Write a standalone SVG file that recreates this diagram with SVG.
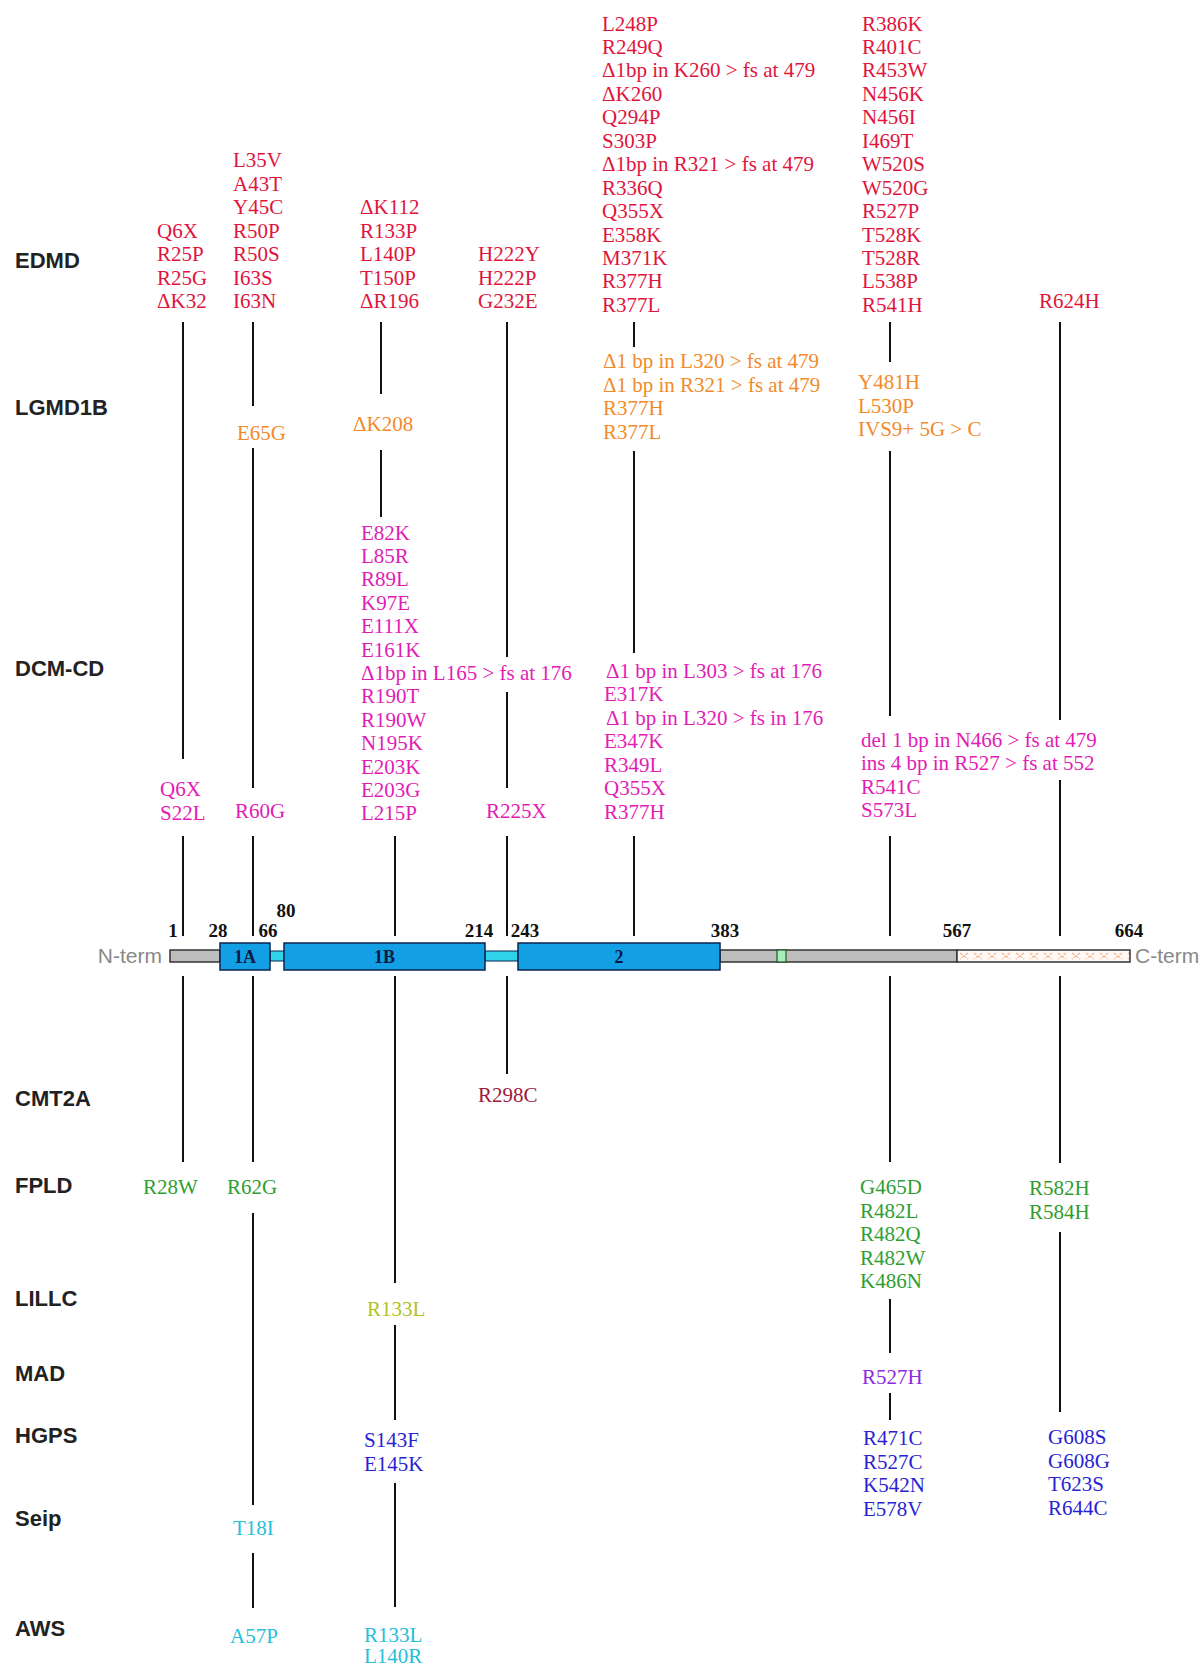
<svg xmlns="http://www.w3.org/2000/svg" width="1202" height="1667" viewBox="0 0 1202 1667">
<style>
.bg{fill:#ffffff}
.row{font-family:"Liberation Sans",Arial,sans-serif;font-weight:bold;font-size:22px;fill:#222222}
.m{font-family:"Liberation Serif","Times New Roman",serif;font-size:21px}
.edmd{fill:#e0143c}
.lgmd{fill:#f28a2a}
.dcm{fill:#e21cb4}
.cmt{fill:#9c1a3a}
.fpld{fill:#2f9e32}
.lillc{fill:#b2c224}
.mad{fill:#8a2be2}
.hgps{fill:#2a1fd4}
.seip{fill:#25c0d8}
.num{font-family:"Liberation Serif","Times New Roman",serif;font-weight:bold;font-size:19px;fill:#111111;text-anchor:middle}
.dom{font-family:"Liberation Serif","Times New Roman",serif;font-weight:bold;font-size:18px;fill:#0a1a40;text-anchor:middle}
.term{font-family:"Liberation Sans",Arial,sans-serif;font-size:21px;fill:#888888}
.box{fill:#139fe4;stroke:#0b2550;stroke-width:1.5}
.link{fill:#2fd3ea;stroke:#0b2550;stroke-width:1}
.tail{fill:#bdbdbd;stroke:#333333;stroke-width:1.5}
.conn line{stroke:#111111;stroke-width:2}
</style>
<defs>
<pattern id="hatch" x="957" y="950" width="14" height="12" patternUnits="userSpaceOnUse">
<rect width="14" height="12" fill="#fff8f4"/>
<path d="M3 3 L11 9 M11 3 L3 9" stroke="#f4b48a" stroke-width="1.1" stroke-dasharray="3 1.5"/>
</pattern>
</defs>
<rect class="bg" x="0" y="0" width="1202" height="1667"/>

<g id="row-labels">
<text class="row" x="15" y="268">EDMD</text>
<text class="row" x="15" y="415">LGMD1B</text>
<text class="row" x="15" y="676">DCM-CD</text>
<text class="row" x="15" y="1106">CMT2A</text>
<text class="row" x="15" y="1193">FPLD</text>
<text class="row" x="15" y="1306">LILLC</text>
<text class="row" x="15" y="1381">MAD</text>
<text class="row" x="15" y="1443">HGPS</text>
<text class="row" x="15" y="1526">Seip</text>
<text class="row" x="15" y="1636">AWS</text>
</g>

<g id="connectors" class="conn">
<line x1="183" y1="322" x2="183" y2="759"/>
<line x1="183" y1="836" x2="183" y2="936"/>
<line x1="183" y1="976" x2="183" y2="1162"/>
<line x1="253" y1="322" x2="253" y2="406"/>
<line x1="253" y1="448" x2="253" y2="788"/>
<line x1="253" y1="836" x2="253" y2="936"/>
<line x1="253" y1="976" x2="253" y2="1162"/>
<line x1="253" y1="1213" x2="253" y2="1505"/>
<line x1="253" y1="1553" x2="253" y2="1608"/>
<line x1="381" y1="322" x2="381" y2="394"/>
<line x1="381" y1="450" x2="381" y2="517"/>
<line x1="395" y1="836" x2="395" y2="936"/>
<line x1="395" y1="976" x2="395" y2="1283"/>
<line x1="395" y1="1325" x2="395" y2="1420"/>
<line x1="395" y1="1483" x2="395" y2="1607"/>
<line x1="507" y1="322" x2="507" y2="657"/>
<line x1="507" y1="692" x2="507" y2="788"/>
<line x1="507" y1="836" x2="507" y2="936"/>
<line x1="507" y1="976" x2="507" y2="1074"/>
<line x1="634" y1="322" x2="634" y2="347"/>
<line x1="634" y1="451" x2="634" y2="653"/>
<line x1="634" y1="836" x2="634" y2="936"/>
<line x1="890" y1="322" x2="890" y2="362"/>
<line x1="890" y1="451" x2="890" y2="716"/>
<line x1="890" y1="836" x2="890" y2="936"/>
<line x1="890" y1="976" x2="890" y2="1162"/>
<line x1="890" y1="1299" x2="890" y2="1353"/>
<line x1="890" y1="1393" x2="890" y2="1420"/>
<line x1="1060" y1="322" x2="1060" y2="720"/>
<line x1="1060" y1="780" x2="1060" y2="936"/>
<line x1="1060" y1="976" x2="1060" y2="1163"/>
<line x1="1060" y1="1232" x2="1060" y2="1412"/>
</g>

<g id="protein">
<rect class="tail" x="170" y="950" width="50" height="12"/>
<rect class="link" x="270" y="951" width="14" height="10"/>
<rect class="link" x="485" y="951" width="33" height="10"/>
<rect class="tail" x="720" y="950" width="237" height="12"/>
<rect x="777" y="950" width="9" height="12" fill="#a8eeb8" stroke="#1d5a2a" stroke-width="1.2"/>
<rect x="957" y="950" width="173" height="12" fill="url(#hatch)" stroke="#333333" stroke-width="1.5"/>
<text class="term" x="162" y="963" text-anchor="end">N-term</text>
<text class="term" x="1135" y="963">C-term</text>
</g>
<g id="domain-1A">
<rect class="box" x="220" y="943" width="50" height="27"/>
<text class="dom" x="245" y="963">1A</text>
</g>
<g id="domain-1B">
<rect class="box" x="284" y="943" width="201" height="27"/>
<text class="dom" x="384.5" y="963">1B</text>
</g>
<g id="domain-2">
<rect class="box" x="518" y="943" width="202" height="27"/>
<text class="dom" x="619" y="963">2</text>
</g>
<g id="positions">
<text class="num" x="173" y="937">1</text>
<text class="num" x="218" y="937">28</text>
<text class="num" x="268" y="937">66</text>
<text class="num" x="286" y="917">80</text>
<text class="num" x="479" y="937">214</text>
<text class="num" x="525" y="937">243</text>
<text class="num" x="725" y="937">383</text>
<text class="num" x="957" y="937">567</text>
<text class="num" x="1129" y="937">664</text>
</g>

<g id="edmd-1"><text class="m edmd" x="157" y="237.5"><tspan x="157">Q6X</tspan><tspan x="157" dy="23.5">R25P</tspan><tspan x="157" dy="23.5">R25G</tspan><tspan x="157" dy="23.5">ΔK32</tspan></text></g>
<g id="edmd-2"><text class="m edmd" x="233" y="167"><tspan x="233">L35V</tspan><tspan x="233" dy="23.5">A43T</tspan><tspan x="233" dy="23.5">Y45C</tspan><tspan x="233" dy="23.5">R50P</tspan><tspan x="233" dy="23.5">R50S</tspan><tspan x="233" dy="23.5">I63S</tspan><tspan x="233" dy="23.5">I63N</tspan></text></g>
<g id="edmd-3"><text class="m edmd" x="360" y="214"><tspan x="360">ΔK112</tspan><tspan x="360" dy="23.5">R133P</tspan><tspan x="360" dy="23.5">L140P</tspan><tspan x="360" dy="23.5">T150P</tspan><tspan x="360" dy="23.5">ΔR196</tspan></text></g>
<g id="edmd-4"><text class="m edmd" x="478" y="261"><tspan x="478">H222Y</tspan><tspan x="478" dy="23.5">H222P</tspan><tspan x="478" dy="23.5">G232E</tspan></text></g>
<g id="edmd-5"><text class="m edmd" x="602" y="30.5"><tspan x="602">L248P</tspan><tspan x="602" dy="23.45">R249Q</tspan><tspan x="602" dy="23.45">Δ1bp in K260 &gt; fs at 479</tspan><tspan x="602" dy="23.45">ΔK260</tspan><tspan x="602" dy="23.45">Q294P</tspan><tspan x="602" dy="23.45">S303P</tspan><tspan x="602" dy="23.45">Δ1bp in R321 &gt; fs at 479</tspan><tspan x="602" dy="23.45">R336Q</tspan><tspan x="602" dy="23.45">Q355X</tspan><tspan x="602" dy="23.45">E358K</tspan><tspan x="602" dy="23.45">M371K</tspan><tspan x="602" dy="23.45">R377H</tspan><tspan x="602" dy="23.45">R377L</tspan></text></g>
<g id="edmd-6"><text class="m edmd" x="862" y="30.5"><tspan x="862">R386K</tspan><tspan x="862" dy="23.45">R401C</tspan><tspan x="862" dy="23.45">R453W</tspan><tspan x="862" dy="23.45">N456K</tspan><tspan x="862" dy="23.45">N456I</tspan><tspan x="862" dy="23.45">I469T</tspan><tspan x="862" dy="23.45">W520S</tspan><tspan x="862" dy="23.45">W520G</tspan><tspan x="862" dy="23.45">R527P</tspan><tspan x="862" dy="23.45">T528K</tspan><tspan x="862" dy="23.45">T528R</tspan><tspan x="862" dy="23.45">L538P</tspan><tspan x="862" dy="23.45">R541H</tspan></text></g>
<g id="edmd-7"><text class="m edmd" x="1039" y="308">R624H</text></g>

<g id="lgmd-1"><text class="m lgmd" x="237" y="440">E65G</text></g>
<g id="lgmd-2"><text class="m lgmd" x="353" y="431">ΔK208</text></g>
<g id="lgmd-3"><text class="m lgmd" x="603" y="368"><tspan x="603">Δ1 bp in L320 &gt; fs at 479</tspan><tspan x="603" dy="23.5">Δ1 bp in R321 &gt; fs at 479</tspan><tspan x="603" dy="23.5">R377H</tspan><tspan x="603" dy="23.5">R377L</tspan></text></g>
<g id="lgmd-4"><text class="m lgmd" x="858" y="389"><tspan x="858">Y481H</tspan><tspan x="858" dy="23.5">L530P</tspan><tspan x="858" dy="23.5">IVS9+ 5G &gt; C</tspan></text></g>

<g id="dcm-1"><text class="m dcm" x="160" y="796"><tspan x="160">Q6X</tspan><tspan x="160" dy="23.5">S22L</tspan></text></g>
<g id="dcm-2"><text class="m dcm" x="235" y="818">R60G</text></g>
<g id="dcm-3"><text class="m dcm" x="361" y="539.5"><tspan x="361">E82K</tspan><tspan x="361" dy="23.4">L85R</tspan><tspan x="361" dy="23.4">R89L</tspan><tspan x="361" dy="23.4">K97E</tspan><tspan x="361" dy="23.4">E111X</tspan><tspan x="361" dy="23.4">E161K</tspan><tspan x="361" dy="23.4">Δ1bp in L165 &gt; fs at 176</tspan><tspan x="361" dy="23.4">R190T</tspan><tspan x="361" dy="23.4">R190W</tspan><tspan x="361" dy="23.4">N195K</tspan><tspan x="361" dy="23.4">E203K</tspan><tspan x="361" dy="23.4">E203G</tspan><tspan x="361" dy="23.4">L215P</tspan></text></g>
<g id="dcm-4"><text class="m dcm" x="486" y="818">R225X</text></g>
<g id="dcm-5"><text class="m dcm" x="604" y="677.5"><tspan x="606">Δ1 bp in L303 &gt; fs at 176</tspan><tspan x="604" dy="23.5">E317K</tspan><tspan x="606" dy="23.5">Δ1 bp in L320 &gt; fs in 176</tspan><tspan x="604" dy="23.5">E347K</tspan><tspan x="604" dy="23.5">R349L</tspan><tspan x="604" dy="23.5">Q355X</tspan><tspan x="604" dy="23.5">R377H</tspan></text></g>
<g id="dcm-6"><text class="m dcm" x="861" y="746.5"><tspan x="861">del 1 bp in N466 &gt; fs at 479</tspan><tspan x="861" dy="23.5">ins 4 bp in R527 &gt; fs at 552</tspan><tspan x="861" dy="23.5">R541C</tspan><tspan x="861" dy="23.5">S573L</tspan></text></g>

<g id="cmt2a-1"><text class="m cmt" x="478" y="1102">R298C</text></g>

<g id="fpld-1"><text class="m fpld" x="143" y="1194">R28W</text></g>
<g id="fpld-2"><text class="m fpld" x="227" y="1194">R62G</text></g>
<g id="fpld-3"><text class="m fpld" x="860" y="1194"><tspan x="860">G465D</tspan><tspan x="860" dy="23.5">R482L</tspan><tspan x="860" dy="23.5">R482Q</tspan><tspan x="860" dy="23.5">R482W</tspan><tspan x="860" dy="23.5">K486N</tspan></text></g>
<g id="fpld-4"><text class="m fpld" x="1029" y="1195"><tspan x="1029">R582H</tspan><tspan x="1029" dy="23.5">R584H</tspan></text></g>

<g id="lillc-1"><text class="m lillc" x="367" y="1316">R133L</text></g>
<g id="mad-1"><text class="m mad" x="862" y="1384">R527H</text></g>

<g id="hgps-1"><text class="m hgps" x="364" y="1447"><tspan x="364">S143F</tspan><tspan x="364" dy="23.5">E145K</tspan></text></g>
<g id="hgps-2"><text class="m hgps" x="863" y="1445"><tspan x="863">R471C</tspan><tspan x="863" dy="23.5">R527C</tspan><tspan x="863" dy="23.5">K542N</tspan><tspan x="863" dy="23.5">E578V</tspan></text></g>
<g id="hgps-3"><text class="m hgps" x="1048" y="1444"><tspan x="1048">G608S</tspan><tspan x="1048" dy="23.5">G608G</tspan><tspan x="1048" dy="23.5">T623S</tspan><tspan x="1048" dy="23.5">R644C</tspan></text></g>

<g id="seip-1"><text class="m seip" x="233" y="1535">T18I</text></g>
<g id="aws-1"><text class="m seip" x="230" y="1643">A57P</text></g>
<g id="aws-2"><text class="m seip" x="364" y="1642"><tspan x="364">R133L</tspan><tspan x="364" dy="21">L140R</tspan></text></g>
</svg>
